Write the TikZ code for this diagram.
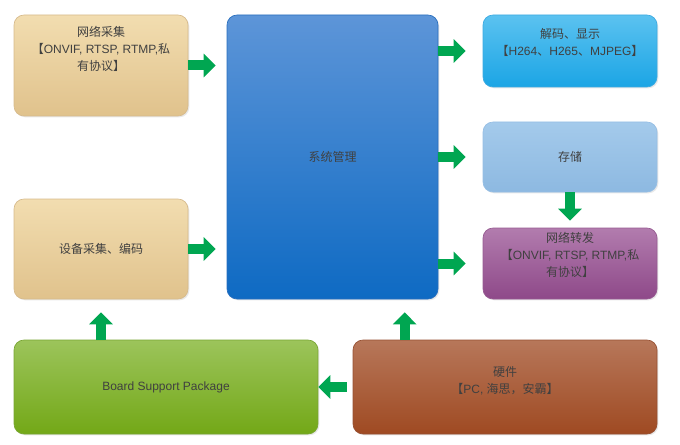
\documentclass[tikz,border=0pt]{standalone}
\usepackage{fontspec}
\setmainfont{Liberation Sans}
\newfontfamily\cjk{Noto Sans CJK SC}
\usetikzlibrary{arrows.meta,shadows}

\definecolor{flowgreen}{RGB}{0,166,81}
\definecolor{txtgray}{RGB}{64,64,64}

\tikzset{
  box/.style={rounded corners=7.5pt, line width=0.5pt, inner sep=0pt,
    drop shadow={opacity=0.18, shadow xshift=1pt, shadow yshift=-1pt},
    text=txtgray, font=\fontsize{9pt}{12.8pt}\selectfont, align=center},
  txt/.style={text=txtgray, font=\fontsize{9pt}{12.8pt}\selectfont, align=center, inner sep=0pt},
  flow/.style={draw=flowgreen, line width=7.5pt, -{Triangle[width=17.25pt,length=9pt]}}
}

\begin{document}
\begin{tikzpicture}[x=0.75pt,y=-0.75pt]
\useasboundingbox (0,0) rectangle (680,445);

% left column
\node[box, top color={rgb,255:red,242;green,221;blue,176}, bottom color={rgb,255:red,224;green,194;blue,140}, draw={rgb,255:red,214;green,186;blue,140},
  minimum width=130.5pt, minimum height=75.75pt,
  label={[txt, anchor=north, yshift=-8.5pt]north:{{\cjk 网络采集}\\{\cjk 【}ONVIF, RTSP, RTMP,{\cjk 私}\\{\cjk 有协议】}}}] (net) at (101,65.5) {};
\node[box, top color={rgb,255:red,242;green,221;blue,176}, bottom color={rgb,255:red,224;green,194;blue,140}, draw={rgb,255:red,214;green,186;blue,140},
  minimum width=130.5pt, minimum height=75pt] (dev) at (101,249) {\cjk 设备采集、编码};

% centre
\node[box, top color={rgb,255:red,93;green,149;blue,216}, bottom color={rgb,255:red,14;green,106;blue,195}, draw={rgb,255:red,40;green,110;blue,190},
  minimum width=158.25pt, minimum height=213pt] (sys) at (332.5,157) {\cjk 系统管理};

% right column
\node[box, top color={rgb,255:red,91;green,194;blue,240}, bottom color={rgb,255:red,27;green,165;blue,229}, draw={rgb,255:red,60;green,170;blue,225},
  minimum width=130.5pt, minimum height=54pt,
  label={[txt, anchor=north, yshift=-10pt]north:{{\cjk 解码、显示}\\{\cjk 【}H264{\cjk 、}H265{\cjk 、}MJPEG{\cjk 】}}}] (dec) at (570,51) {};
\node[box, top color={rgb,255:red,164;green,202;blue,235}, bottom color={rgb,255:red,141;green,185;blue,225}, draw={rgb,255:red,150;green,190;blue,228},
  minimum width=130.5pt, minimum height=52.5pt] (store) at (570,157) {\cjk 存储};
\node[box, top color={rgb,255:red,178;green,124;blue,174}, bottom color={rgb,255:red,142;green,73;blue,137}, draw={rgb,255:red,150;green,90;blue,145},
  minimum width=130.5pt, minimum height=53.25pt,
  label={[txt, anchor=north, yshift=-3pt]north:{{\cjk 网络转发}\\{\cjk 【}ONVIF, RTSP, RTMP,{\cjk 私}\\{\cjk 有协议】}}}] (fwd) at (570,263.5) {};

% bottom row
\node[box, top color={rgb,255:red,156;green,196;blue,91}, bottom color={rgb,255:red,115;green,168;blue,23}, draw={rgb,255:red,120;green,165;blue,50},
  minimum width=228pt, minimum height=70.5pt] (bsp) at (166,387) {Board Support Package};
\node[box, top color={rgb,255:red,183;green,119;blue,90}, bottom color={rgb,255:red,159;green,74;blue,34}, draw={rgb,255:red,150;green,80;blue,50},
  minimum width=228pt, minimum height=70.5pt,
  label={[txt, anchor=north, yshift=-20pt]north:{{\cjk 硬件}\\{\cjk 【}PC, {\cjk 海思，安霸】}}}] (hw) at (505,387) {};

% arrows
\draw[flow, shorten >=8.25pt] (net.east) -- (net.east -| sys.west);
\draw[flow, shorten >=8.25pt] (dev.east) -- (dev.east -| sys.west);
\draw[flow, shorten >=12.75pt] (sys.east |- dec.west) -- (dec.west);
\draw[flow, shorten >=12.75pt] (sys.east |- store.west) -- (store.west);
\draw[flow, shorten >=12.75pt] (sys.east |- fwd.west) -- (fwd.west);
\draw[flow, shorten >=5.25pt] (store.south) -- (fwd.north);
\draw[flow, shorten >=9.75pt] (bsp.north -| dev.south) -- (dev.south);
\coordinate (hwup) at ([xshift=39pt]hw.north west);
\draw[flow, shorten >=9.75pt] (hwup) -- (hwup |- sys.south);
\draw[flow, shorten <=4.5pt] (hw.west) -- (bsp.east);

\end{tikzpicture}
\end{document}
